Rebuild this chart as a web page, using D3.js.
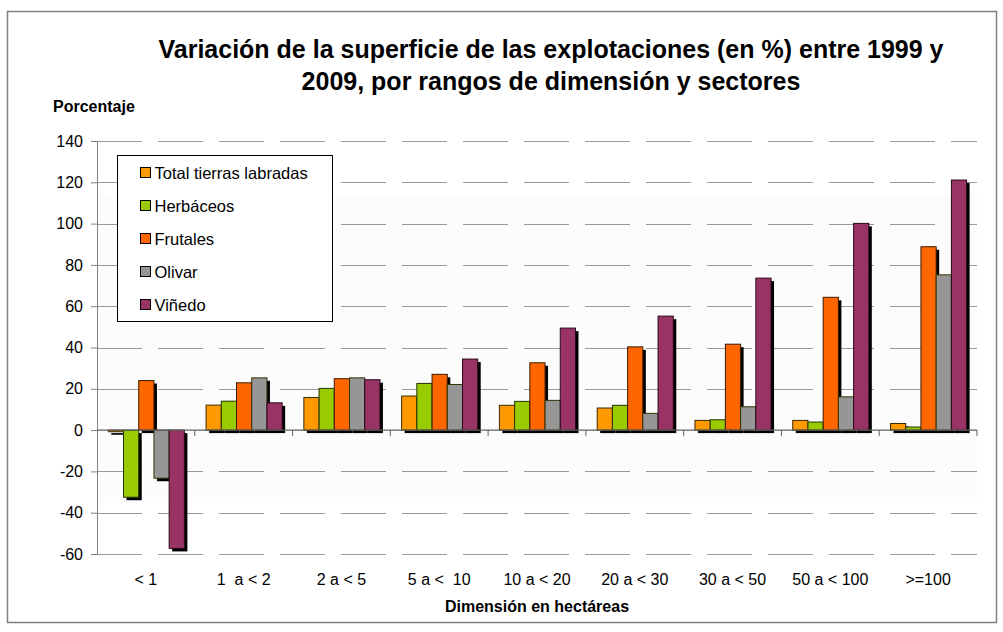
<!DOCTYPE html>
<html>
<head>
<meta charset="utf-8">
<script src="https://cdn.jsdelivr.net/npm/d3@7"></script>
<style>
  body { margin: 0; background: #fff; }
  text { font-family: "Liberation Sans", Arial, sans-serif; fill: #000; }
</style>
</head>
<body>
<div id="graph1"></div>
<script>
// data
const categories = ["< 1", "1  a < 2", "2 a < 5", "5 a <  10", "10 a < 20", "20 a < 30", "30 a < 50", "50 a < 100", ">=100"];
const seriesNames = ["Total tierras labradas", "Herbáceos", "Frutales", "Olivar", "Viñedo"];
const totalTierras = [-0.8, 12.1, 15.8, 16.5, 12.0, 10.7, 4.7, 4.7, 3.2];
const herbaceos = [-32.5, 14.0, 20.2, 22.6, 13.9, 12.0, 5.0, 3.9, 1.5];
const frutales = [24.0, 22.9, 24.9, 27.0, 32.6, 40.3, 41.6, 64.3, 88.8];
const olivar = [-23.3, 25.3, 25.3, 22.1, 14.4, 8.1, 11.3, 16.1, 75.2];
const vinedo = [-57.3, 13.2, 24.4, 34.4, 49.4, 55.2, 73.6, 100.1, 121.1];
const yTicks = [-60, -40, -20, 0, 20, 40, 60, 80, 100, 120, 140];

const colors = ["#FF9900", "#99CC00", "#FF6600", "#969696", "#993366"];
const borders = ["#3a2a00", "#223300", "#3a1a00", "#333300", "#2a0a18"];

const allSeries = [totalTierras, herbaceos, frutales, olivar, vinedo];

const width = 1003, height = 632;
const plot = {left: 97, right: 977, top: 141, bottom: 554};

let svg = d3.select("#graph1")
    .append("svg")
    .attr("width", width)
    .attr("height", height);

// outer frame
svg.append("rect")
    .attr("x", 7.5).attr("y", 11.5)
    .attr("width", 989).attr("height", 611)
    .attr("fill", "#fff")
    .attr("stroke", "#808080")
    .attr("stroke-width", 1.5);

// scales
let y = d3.scaleLinear()
    .domain([-60, 140])
    .range([plot.bottom, plot.top]);

let x0 = d3.scaleBand()
    .domain(categories)
    .range([plot.left, plot.right]);

let x1 = d3.scaleBand()
    .domain(seriesNames)
    .range([11.3, x0.bandwidth() - 10.4]);

// faint plot background
svg.append("rect")
    .attr("x", plot.left).attr("y", y(114))
    .attr("width", plot.right - plot.left)
    .attr("height", y(-35) - y(114))
    .attr("fill", "#fcfcfc");

// gridlines (dashed)
svg.append("g")
    .selectAll("line")
    .data(yTicks.filter(d => d !== 0))
    .enter()
    .append("line")
    .attr("x1", plot.left)
    .attr("x2", plot.right)
    .attr("y1", d => Math.round(y(d)) + 0.5)
    .attr("y2", d => Math.round(y(d)) + 0.5)
    .attr("stroke", "#9a9a9a")
    .attr("stroke-width", 1.2)
    .attr("stroke-dasharray", "45,16");

// bars
let rows = categories.map((c, i) => ({cat: c, values: seriesNames.map((s, j) => ({name: s, idx: j, value: allSeries[j][i]}))}));

let groups = svg.append("g")
    .selectAll("g")
    .data(rows)
    .enter()
    .append("g")
    .attr("transform", d => `translate(${x0(d.cat)}, 0)`);

// shadows first
groups.selectAll("rect.shadow")
    .data(d => d.values)
    .enter()
    .append("rect")
    .attr("class", "shadow")
    .attr("x", d => x1(d.name) + 3)
    .attr("y", d => y(Math.max(0, d.value)) + 3)
    .attr("width", x1.bandwidth())
    .attr("height", d => Math.abs(y(d.value) - y(0)))
    .attr("fill", "#000");

groups.selectAll("rect.bar")
    .data(d => d.values)
    .enter()
    .append("rect")
    .attr("class", "bar")
    .attr("x", d => x1(d.name))
    .attr("y", d => y(Math.max(0, d.value)))
    .attr("width", x1.bandwidth())
    .attr("height", d => Math.abs(y(d.value) - y(0)))
    .attr("fill", d => colors[d.idx])
    .attr("stroke", d => borders[d.idx])
    .attr("stroke-width", 1);

// y axis (plain hyphen for negatives)
let yAxis = svg.append("g")
    .attr("transform", `translate(${plot.left}, 0)`)
    .call(d3.axisLeft(y).tickValues(yTicks).tickFormat(d => String(d)).tickSize(6).tickPadding(8));
yAxis.select(".domain").attr("stroke", "#808080");
yAxis.selectAll(".tick line").attr("stroke", "#808080");
yAxis.selectAll("text")
    .style("font-size", "16px")
    .style("font-family", "Liberation Sans, Arial, sans-serif")
    .attr("fill", "#000");

// x axis on the zero line
let xAxisG = svg.append("g")
    .attr("transform", `translate(0, ${y(0)})`);
xAxisG.append("line")
    .attr("x1", plot.left).attr("x2", plot.right)
    .attr("y1", 0).attr("y2", 0)
    .attr("stroke", "#606060")
    .attr("stroke-width", 1.2);
xAxisG.selectAll("line.tick")
    .data(categories.slice(1).concat(["end"]))
    .enter()
    .append("line")
    .attr("class", "tick")
    .attr("x1", d => d === "end" ? plot.right : x0(d))
    .attr("x2", d => d === "end" ? plot.right : x0(d))
    .attr("y1", 0).attr("y2", 6)
    .attr("stroke", "#606060");

// category labels at the bottom
svg.append("g")
    .selectAll("text")
    .data(categories)
    .enter()
    .append("text")
    .attr("x", d => x0(d) + x0.bandwidth() / 2)
    .attr("y", 585)
    .style("text-anchor", "middle")
    .style("font-size", "16px")
    .style("white-space", "pre")
    .text(d => d);

// title
let title = svg.append("text")
    .style("text-anchor", "middle")
    .style("font-size", "25px")
    .style("font-weight", "bold");
title.append("tspan").attr("x", 551).attr("y", 58)
    .text("Variación de la superficie de las explotaciones (en %) entre 1999 y");
title.append("tspan").attr("x", 551).attr("y", 90)
    .text("2009, por rangos de dimensión y sectores");

// axis titles
svg.append("text")
    .attr("x", 53).attr("y", 112)
    .style("font-size", "16px")
    .style("font-weight", "bold")
    .text("Porcentaje");

svg.append("text")
    .attr("x", (plot.left + plot.right) / 2).attr("y", 612)
    .style("text-anchor", "middle")
    .style("font-size", "16px")
    .style("font-weight", "bold")
    .text("Dimensión en hectáreas");

// legend
let legend = svg.append("g").attr("transform", "translate(117.5, 155.5)");
legend.append("rect")
    .attr("width", 215).attr("height", 166)
    .attr("fill", "#fff")
    .attr("stroke", "#000")
    .attr("stroke-width", 1);

let items = legend.selectAll("g.item")
    .data(seriesNames)
    .enter()
    .append("g")
    .attr("class", "item")
    .attr("transform", (d, i) => `translate(23, ${17 + i * 33})`);
items.append("rect")
    .attr("x", 0).attr("y", -5)
    .attr("width", 10).attr("height", 10)
    .attr("fill", (d, i) => colors[i])
    .attr("stroke", "#000");
items.append("text")
    .attr("x", 14).attr("y", 6)
    .style("font-size", "16.5px")
    .text(d => d);
</script>
</body>
</html>
